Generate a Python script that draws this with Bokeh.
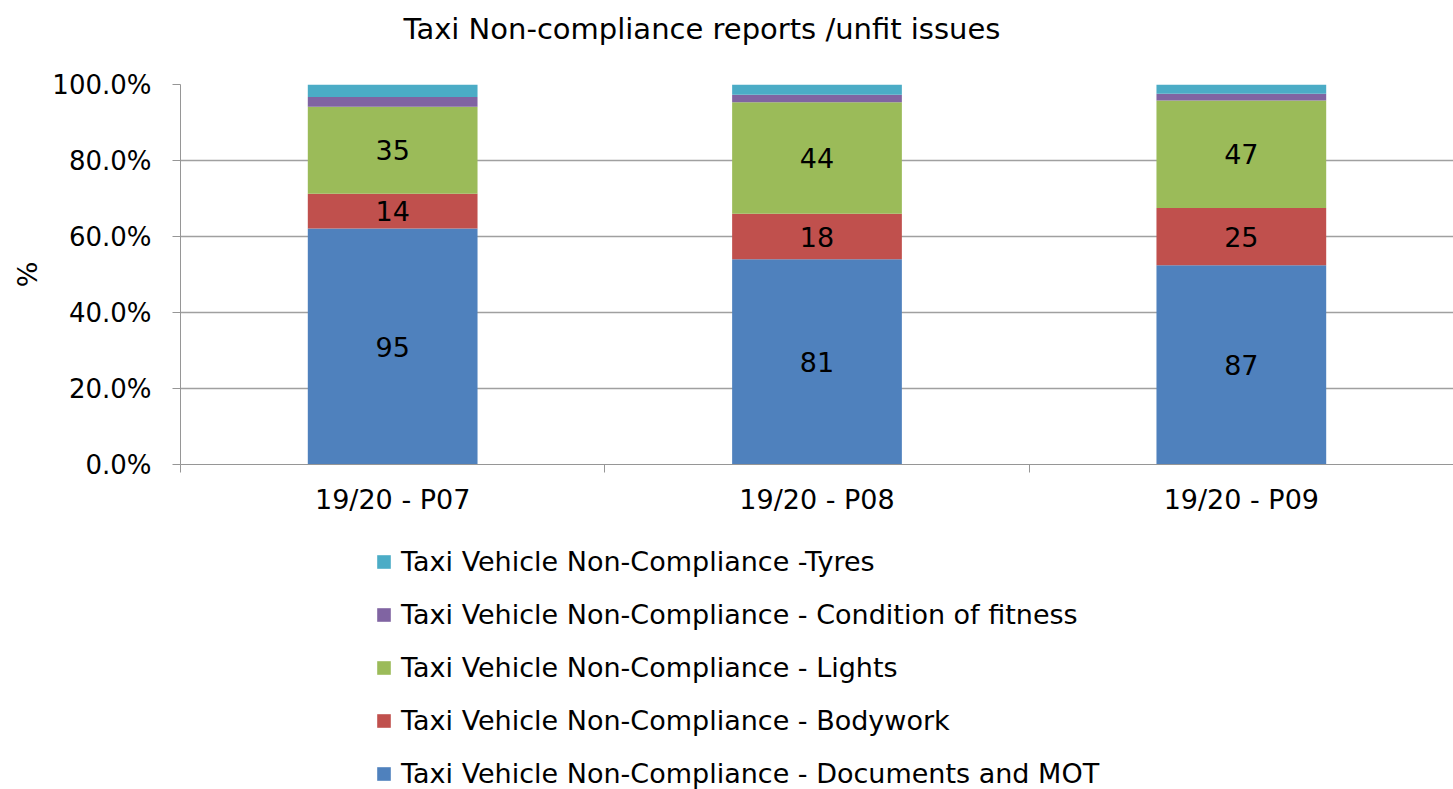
from bokeh.plotting import figure
from bokeh.layouts import column
from bokeh.models import ColumnDataSource, Legend, LegendItem, NumeralTickFormatter, FixedTicker, Range1d, LabelSet
from bokeh.core.properties import value
from bokeh.embed import file_html
from bokeh.resources import INLINE

periods = ["19/20 - P07", "19/20 - P08", "19/20 - P09"]
documents_mot = [95, 81, 87]
bodywork = [14, 18, 25]
lights = [35, 44, 47]
condition = [4, 3, 3]
tyres = [5, 4, 4]

series_names = [
    "Taxi Vehicle Non-Compliance - Documents and MOT",
    "Taxi Vehicle Non-Compliance - Bodywork",
    "Taxi Vehicle Non-Compliance - Lights",
    "Taxi Vehicle Non-Compliance - Condition of fitness",
    "Taxi Vehicle Non-Compliance -Tyres",
]
colors = ["#4F81BD", "#C0504D", "#9BBB59", "#8064A2", "#4BACC6"]
keys = ["doc", "body", "lights", "cond", "tyres"]
raw = [documents_mot, bodywork, lights, condition, tyres]

FONT = "DejaVu Sans"
FS = "27px"

totals = [sum(v[i] for v in raw) for i in range(len(periods))]
xs = [i + 0.5 for i in range(len(periods))]
data = {"x": xs}
for k, v in zip(keys, raw):
    data[k] = [v[i] / totals[i] for i in range(len(periods))]
    data[k + "_n"] = [str(n) for n in v]
cum = [0.0] * len(periods)
for k in keys:
    data[k + "_mid"] = [cum[i] + data[k][i] / 2 for i in range(len(periods))]
    cum = [cum[i] + data[k][i] for i in range(len(periods))]
source = ColumnDataSource(data)

# title strip
p0 = figure(width=1453, height=60, output_backend="svg", toolbar_location=None,
            x_range=Range1d(10, 11), y_range=Range1d(10, 11),
            x_axis_location=None, y_axis_location=None,
            min_border_left=180, min_border_right=0, min_border_top=0, min_border_bottom=0)
p0.grid.visible = False
p0.outline_line_color = None
p0.vbar_stack(keys, x="x", width=0.4, source=source, color=colors, line_color=None)
p0.title.text = "Taxi Non-compliance reports /unfit issues"
p0.title.align = "left"
p0.title.offset = 223
p0.title.standoff = 22
p0.title.vertical_align = "top"
p0.title.text_font = FONT
p0.title.text_font_size = "29px"
p0.title.text_font_style = "normal"
p0.title.text_color = "#000000"

p = figure(width=1453, height=475, output_backend="svg", toolbar_location=None,
           x_range=Range1d(0, 3), y_range=Range1d(0, 1),
           min_border_left=180, min_border_right=0, min_border_top=24, min_border_bottom=71)

renderers = p.vbar_stack(keys, x="x", width=0.4, source=source, color=colors, line_color=None)

for k in keys[:3]:
    lbl = LabelSet(x="x", y=k + "_mid", text=k + "_n", source=source,
                   text_align="center", text_baseline="middle",
                   text_font=value(FONT), text_font_size=value(FS), text_color="#000000")
    p.add_layout(lbl)

p.yaxis.ticker = FixedTicker(ticks=[0, 0.2, 0.4, 0.6, 0.8, 1.0])
p.yaxis.formatter = NumeralTickFormatter(format="0.0%")
p.yaxis.axis_label = "%"
p.yaxis.axis_label_text_font = FONT
p.yaxis.axis_label_text_font_size = FS
p.yaxis.axis_label_text_font_style = "normal"
p.yaxis.axis_label_text_color = "#000000"
p.yaxis.axis_label_standoff = 6
p.yaxis.major_label_text_font = FONT
p.yaxis.major_label_text_font_size = "26px"
p.yaxis.major_label_text_color = "#000000"
p.yaxis.axis_line_color = "#969696"
p.yaxis.major_tick_line_color = "#969696"
p.yaxis.major_tick_out = 8
p.yaxis.major_tick_in = 0
p.yaxis.minor_tick_line_color = None
p.yaxis.major_label_standoff = 21

p.xaxis.ticker = FixedTicker(ticks=xs, minor_ticks=[0, 1, 2, 3])
p.xaxis.major_label_overrides = {x: lab for x, lab in zip(xs, periods)}
p.xaxis.major_label_text_font = FONT
p.xaxis.major_label_text_font_size = FS
p.xaxis.major_label_text_color = "#000000"
p.xaxis.major_tick_line_color = None
p.xaxis.minor_tick_line_color = "#969696"
p.xaxis.minor_tick_out = 8
p.xaxis.minor_tick_in = 0
p.xaxis.axis_line_color = "#969696"
p.xaxis.major_label_standoff = 11

p.xgrid.grid_line_color = None
p.ygrid.grid_line_color = "#A0A0A0"
p.ygrid.grid_line_width = 1.5
p.outline_line_color = None

# legend panel below the chart
p2 = figure(width=1453, height=254, output_backend="svg", toolbar_location=None,
            x_range=Range1d(10, 11), y_range=Range1d(10, 11),
            x_axis_location=None, y_axis_location=None,
            min_border_left=0, min_border_right=0, min_border_top=0, min_border_bottom=0)
p2.grid.visible = False
p2.outline_line_color = None
lrs = p2.vbar_stack(keys, x="x", width=0.4, source=source, color=colors, line_color=None)

items = [LegendItem(label=series_names[i], renderers=[lrs[i]]) for i in reversed(range(5))]
legend = Legend(items=items, orientation="vertical", location=(195, 0),
                label_text_font=FONT, label_text_font_size=FS, label_text_color="#000000",
                glyph_width=17, glyph_height=17, label_height=32, spacing=21,
                label_standoff=9, border_line_color=None, background_fill_alpha=0,
                padding=0, margin=0)
p2.add_layout(legend, "center")

layout = column(p0, p, p2, spacing=0)
open("out.html", "w").write(file_html(layout, INLINE))
